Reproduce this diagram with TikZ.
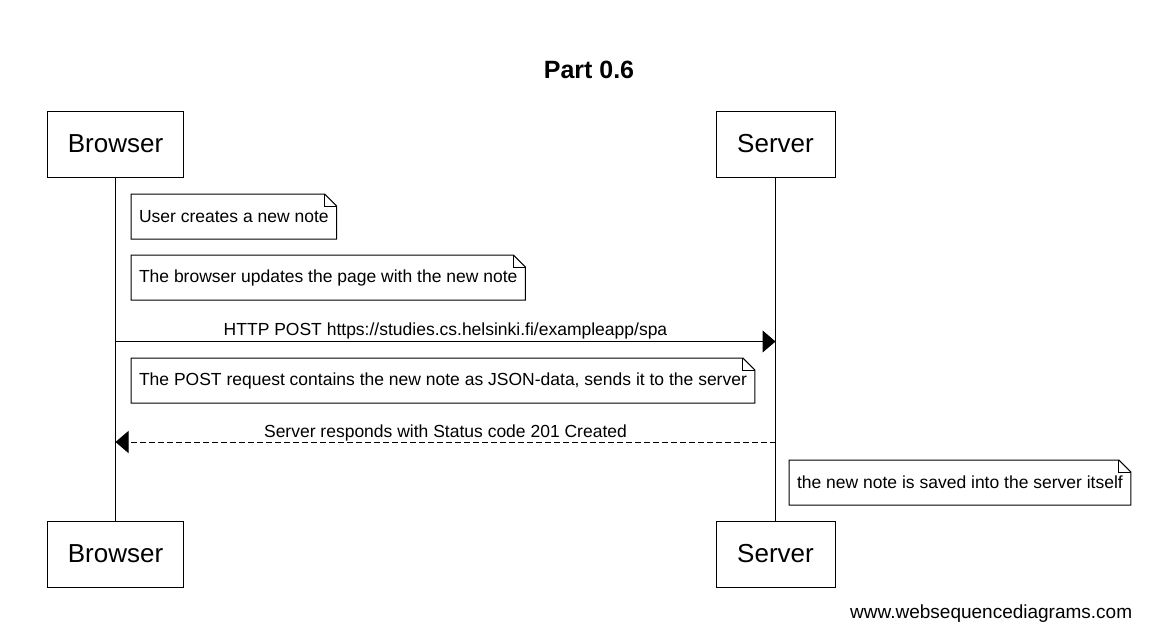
\documentclass[tikz,border=0pt]{standalone}
\usepackage{fontspec}
\setmainfont{Liberation Sans}
\usetikzlibrary{arrows.meta}

\begin{document}
\begin{tikzpicture}[x = 1pt, y = -1pt, line width = 1pt]
	\tikzstyle{actorStyle} = [draw, minimum height = 66pt, inner sep = 0pt, font = \fontsize{26}{30}\selectfont]
	\tikzstyle{noteStyle} = [anchor = north west, minimum height = 44pt, inner xsep = 7.5pt, inner ysep = 0pt, font = \fontsize{17.5}{21}\selectfont]
	\tikzstyle{msgStyle} = [-{Triangle[length = 13pt, width = 22pt]}]
	\tikzstyle{replyStyle} = [msgStyle, dash pattern = on 6pt off 3pt]
	\tikzstyle{msgLabel} = [anchor = base, inner sep = 0pt, font = \fontsize{17.5}{21}\selectfont]
	\useasboundingbox (0,0) rectangle (1167,643);
	\node[anchor = base, font = \bfseries\fontsize{25}{30}\selectfont] (title) at (589,78) {Part 0.6};
	\node[actorStyle, minimum width = 136pt] (b1) at (115.5,144) {Browser};
	\node[actorStyle, minimum width = 119pt] (s1) at (775.5,144) {Server};
	\node[actorStyle, minimum width = 136pt] (b2) at (115.5,554) {Browser};
	\node[actorStyle, minimum width = 119pt] (s2) at (775.5,554) {Server};
	\draw (b1) -- (b2);
	\draw (s1) -- (s2);
	\node[noteStyle] (n1) at (131,194) {User creates a new note};
	\node[noteStyle] (n2) at (131,255) {The browser updates the page with the new note};
	\node[noteStyle] (n3) at (131,358) {The POST request contains the new note as JSON-data, sends it to the server};
	\node[noteStyle] (n4) at (789,460) {the new note is saved into the server itself};
	\foreach \n in {n1, n2, n3, n4} {
		\draw (\n.north west) -- ([xshift = -12pt]\n.north east) -- ([yshift = -12pt]\n.north east) -- (\n.south east) -- (\n.south west) -- cycle;
		\draw ([xshift = -12pt]\n.north east) |- ([yshift = -12pt]\n.north east);
	}
	\coordinate (bm1) at (115.5,341.5);
	\coordinate (sm1) at (775.5,341.5);
	\coordinate (bm2) at (115.5,442);
	\coordinate (sm2) at (775.5,442);
	\draw[msgStyle] (bm1) -- node[msgLabel, yshift = 6.5pt] {HTTP POST https://studies.cs.helsinki.fi/exampleapp/spa} (sm1);
	\draw[replyStyle] (sm2) -- node[msgLabel, yshift = 5pt] {Server responds with Status code 201 Created} (bm2);
	\node[anchor = base east, font = \fontsize{19}{22}\selectfont] (site) at (1136,618) {www.websequencediagrams.com};
\end{tikzpicture}
\end{document}
